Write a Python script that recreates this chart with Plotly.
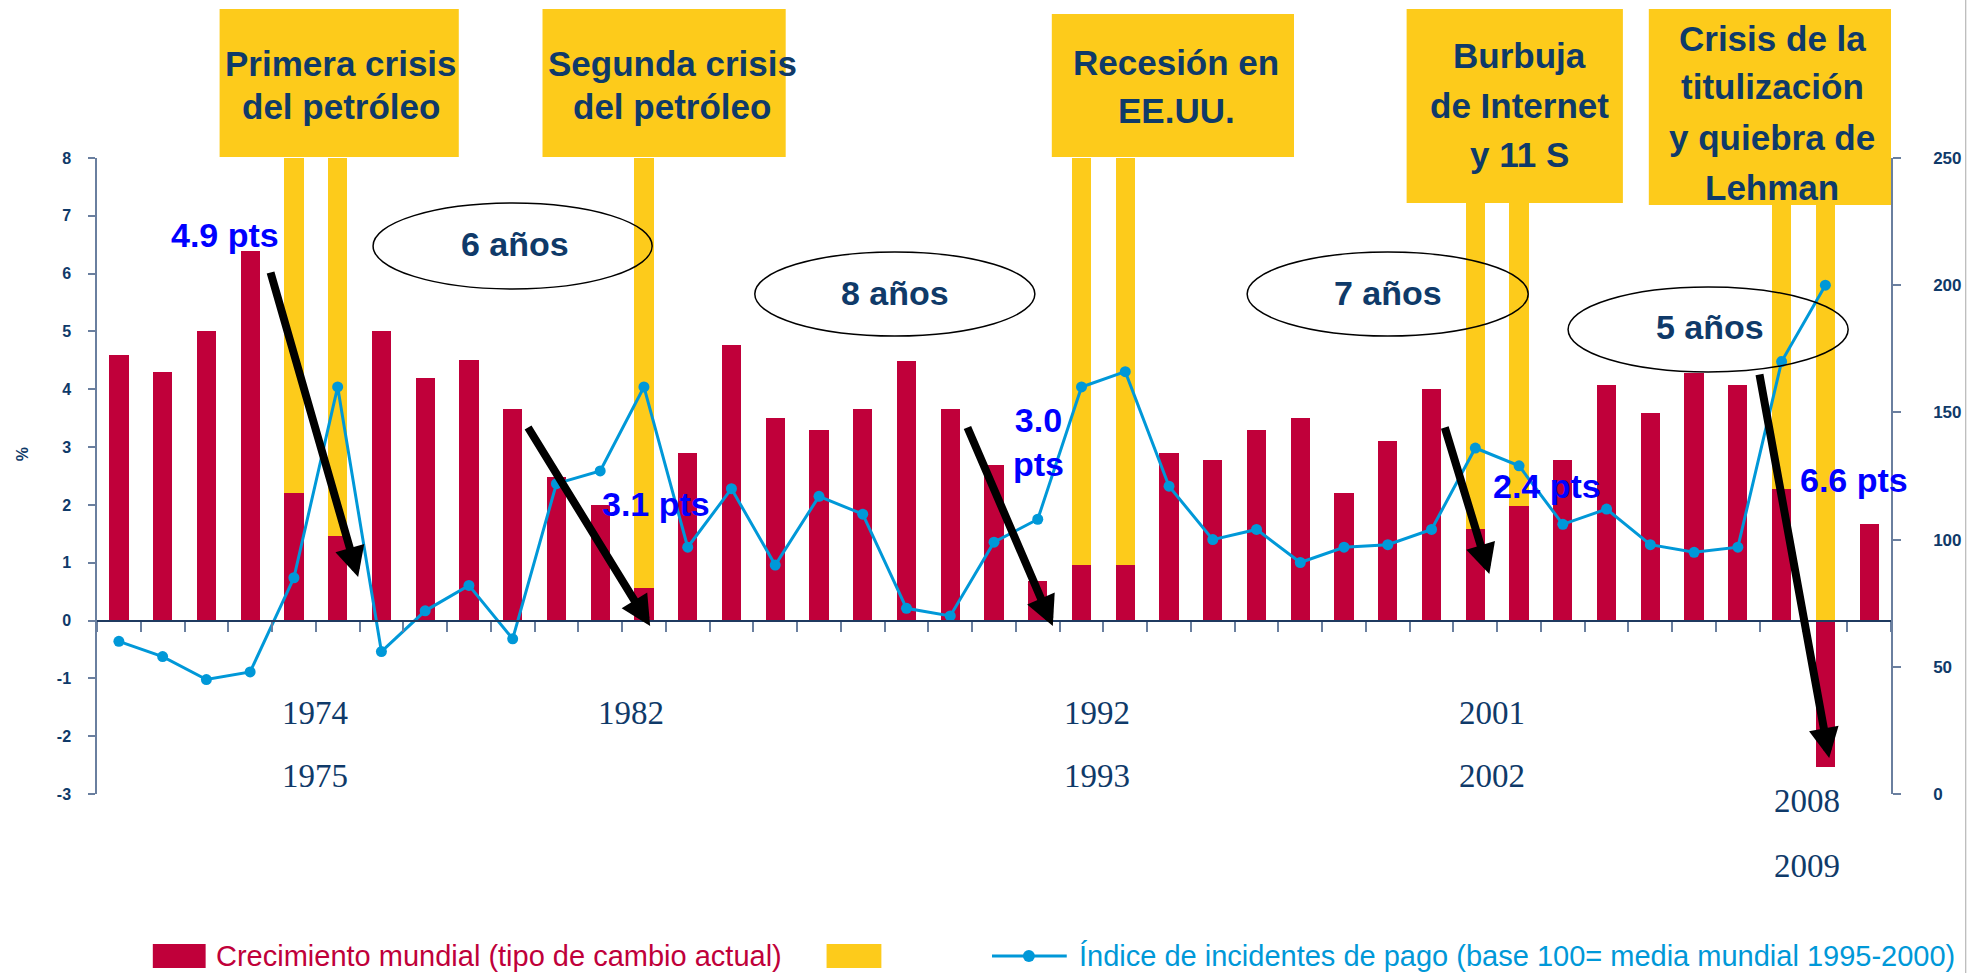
import plotly.graph_objects as go

# ---------------- data ----------------
years = [1970, 1971, 1972, 1973, 1974, 1975, 1976, 1977, 1978, 1979,
         1980, 1981, 1982, 1983, 1984, 1985, 1986, 1987, 1988, 1989,
         1990, 1991, 1992, 1993, 1994, 1995, 1996, 1997, 1998, 1999,
         2000, 2001, 2002, 2003, 2004, 2005, 2006, 2007, 2008, 2009, 2010]

growth = [4.6, 4.3, 5.0, 6.4, 2.2, 1.47, 5.0, 4.2, 4.5, 3.66,
          2.48, 2.0, 0.56, 2.9, 4.76, 3.5, 3.29, 3.66, 4.49, 3.66,
          2.69, 0.68, 0.96, 0.96, 2.9, 2.78, 3.29, 3.5, 2.2, 3.1,
          4.0, 1.58, 1.98, 2.78, 4.07, 3.59, 4.28, 4.07, 2.27, -2.53, 1.67]

payment_index = [60, 54, 45, 48, 85, 160, 56, 72, 82, 61,
                 122, 127, 160, 97, 120, 90, 117, 110, 73, 70,
                 99, 108, 160, 166, 121, 100, 104, 91, 97, 98,
                 104, 136, 129, 106, 112, 98, 95, 97, 170, 200, None]

crisis_years = [1974, 1975, 1982, 1992, 1993, 2001, 2002, 2008, 2009]
crisis_band = [8, 8, 8, 8, 8, 8, 8, 8, 8]

left_ticks = [-3, -2, -1, 0, 1, 2, 3, 4, 5, 6, 7, 8]
left_tick_text = ["-3", "-2", "-1", "0", "1", "2", "3", "4", "5", "6", "7", "8"]
right_ticks = [0, 50, 100, 150, 200, 250]
right_tick_text = ["0", "50", "100", "150", "200", "250"]

crisis_boxes = [
    ["Primera crisis", "del petróleo"],
    ["Segunda crisis", "del petróleo"],
    ["Recesión en", "EE.UU."],
    ["Burbuja", "de Internet", "y 11 S"],
    ["Crisis de la", "titulización", "y quiebra de", "Lehman"],
]
cycle_labels = ["6 años", "8 años", "7 años", "5 años"]
drop_labels = ["4.9 pts", "3.1 pts", "3.0<br>pts", "2.4 pts", "6.6 pts"]
year_labels = [["1974", "1975"], ["1982"], ["1992", "1993"], ["2001", "2002"], ["2008", "2009"]]

legend_growth = "Crecimiento mundial (tipo de cambio actual)"
legend_index = "Índice de incidentes de pago (base 100= media mundial 1995-2000)"

# ---------------- style ----------------
RED = "#C0003A"
YEL = "#FDCB1B"
BLUE = "#0098D8"
NAVY = "#0F3A69"
AXIS = "#6A7F9F"
PTS = "#0000FF"
SANS = "Liberation Sans, Arial, sans-serif"
SERIF = "Liberation Serif, Times New Roman, serif"

W, H = 1974, 973
L, R, T, B = 97, 1897, 158, 794
PW, PH = R - L, B - T


def px(x):
    return (x - L) / PW


def py(y):
    return (B - y) / PH


fig = go.Figure()
fig.add_trace(go.Bar(x=crisis_years, y=crisis_band, width=0.44, marker=dict(color=YEL, line=dict(width=0)),
                     yaxis="y", showlegend=False, hoverinfo="skip"))
fig.add_trace(go.Bar(x=years, y=growth, width=0.44, marker=dict(color=RED, line=dict(width=0)),
                     yaxis="y", showlegend=False, name=legend_growth))
fig.add_trace(go.Scatter(x=years, y=payment_index, yaxis="y2", mode="lines+markers",
                         line=dict(color=BLUE, width=3), marker=dict(color=BLUE, size=11),
                         showlegend=False, name=legend_index))

shapes = []
annotations = []

# crisis boxes (pixel geometry)
box_geo = [
    (220, 460, 9, 157, 342, [64, 107]),
    (544, 788, 9, 157, 674, [64, 107]),
    (1055, 1298, 14, 157, 1180, [62, 110]),
    (1411, 1628, 9, 203, 1524, [56, 105, 154]),
    (1654, 1897, 9, 205, 1778, [38, 87, 137, 187]),
]
for (x0, x1, y0, y1, cx, lys), lines in zip(box_geo, crisis_boxes):
    shapes.append(dict(type="rect", xref="paper", yref="paper", x0=px(x0), x1=px(x1), y0=py(y1), y1=py(y0),
                       fillcolor=YEL, line=dict(width=0), layer="above"))
    for ly, txt in zip(lys, lines):
        annotations.append(dict(xref="paper", yref="paper", x=px(cx), y=py(ly), text="<b>%s</b>" % txt,
                                showarrow=False, xanchor="center", yanchor="middle",
                                font=dict(family=SANS, size=35, color=NAVY)))

# cycle ellipses
ell_geo = [
    (374, 654, 203, 289, 516, 244),
    (757, 1038, 252, 336, 898, 293),
    (1251, 1533, 252, 336, 1392, 293),
    (1573, 1854, 287, 372, 1715, 327),
]
for (x0, x1, y0, y1, cx, cy), txt in zip(ell_geo, cycle_labels):
    shapes.append(dict(type="circle", xref="paper", yref="paper", x0=px(x0), x1=px(x1), y0=py(y1), y1=py(y0),
                       line=dict(color="black", width=1.5), fillcolor="rgba(0,0,0,0)", layer="above"))
    annotations.append(dict(xref="paper", yref="paper", x=px(cx), y=py(cy), text="<b>%s</b>" % txt,
                            showarrow=False, xanchor="center", yanchor="middle",
                            font=dict(family=SANS, size=34, color=NAVY)))

# drop labels
pts_geo = [(225, 235), (658, 504), (1042, 442), (1552, 486), (1860, 480)]
for (cx, cy), txt in zip(pts_geo, drop_labels):
    annotations.append(dict(xref="paper", yref="paper", x=px(cx), y=py(cy), text="<b>%s</b>" % txt,
                            showarrow=False, xanchor="center", yanchor="middle",
                            font=dict(family=SANS, size=34, color=PTS)))

# arrows (tail -> tip)
arrow_geo = [
    ((271, 271), (359, 577)),
    ((529, 426), (652, 626)),
    ((970, 426), (1056, 626)),
    ((1449, 426), (1494, 574)),
    ((1765, 373), (1835, 758)),
]
for (tx, ty), (hx, hy) in arrow_geo:
    annotations.append(dict(xref="paper", yref="paper", x=px(hx), y=py(hy), text="",
                            showarrow=True, axref="pixel", ayref="pixel", ax=tx - hx, ay=ty - hy,
                            arrowhead=2, arrowsize=0.75, arrowwidth=8, arrowcolor="black", standoff=0))

# year labels
year_geo = [(316, [713, 776]), (633, [713]), (1100, [713, 776]), (1497, [713, 776]), (1813, [801, 866])]
for (cx, lys), labs in zip(year_geo, year_labels):
    for ly, txt in zip(lys, labs):
        annotations.append(dict(xref="paper", yref="paper", x=px(cx), y=py(ly), text=txt,
                                showarrow=False, xanchor="center", yanchor="middle",
                                font=dict(family=SERIF, size=33, color=NAVY)))

# % axis title
annotations.append(dict(xref="paper", yref="paper", x=px(22), y=py(454), text="<b>%</b>", textangle=-90,
                        showarrow=False, xanchor="center", yanchor="middle",
                        font=dict(family=SANS, size=16, color=NAVY)))

# manual legend
shapes.append(dict(type="rect", xref="paper", yref="paper", x0=px(153), x1=px(206), y0=py(968), y1=py(944),
                   fillcolor=RED, line=dict(width=0)))
annotations.append(dict(xref="paper", yref="paper", x=px(214), y=py(956), text=legend_growth, showarrow=False,
                        xanchor="left", yanchor="middle", font=dict(family=SANS, size=29, color=RED)))
shapes.append(dict(type="rect", xref="paper", yref="paper", x0=px(829), x1=px(884), y0=py(968), y1=py(944),
                   fillcolor=YEL, line=dict(width=0)))
shapes.append(dict(type="line", xref="paper", yref="paper", x0=px(995), x1=px(1070), y0=py(956), y1=py(956),
                   line=dict(color=BLUE, width=3)))
shapes.append(dict(type="circle", xref="paper", yref="paper", x0=px(1026), x1=px(1038), y0=py(962), y1=py(950),
                   fillcolor=BLUE, line=dict(width=0)))
annotations.append(dict(xref="paper", yref="paper", x=px(1080), y=py(956), text=legend_index, showarrow=False,
                        xanchor="left", yanchor="middle", font=dict(family=SANS, size=29, color=BLUE)))

# slide border on right
shapes.append(dict(type="line", xref="paper", yref="paper", x0=px(1972), x1=px(1972), y0=py(973), y1=py(0),
                   line=dict(color="#A8A8A8", width=1)))

fig.update_layout(
    width=W, height=H,
    margin=dict(l=L, r=W - R, t=T, b=H - B, pad=0),
    paper_bgcolor="white", plot_bgcolor="white",
    barmode="overlay", bargap=0,
    showlegend=False,
    shapes=shapes, annotations=annotations,
    xaxis=dict(type="linear", range=[1969.5, 2010.5], anchor="free", position=3 / 11,
               showline=True, linecolor="#1F3A60", linewidth=2, zeroline=False, showgrid=False,
               ticks="outside", tick0=1969.5, dtick=1, ticklen=10, tickwidth=1.5, tickcolor=AXIS,
               showticklabels=False),
    yaxis=dict(range=[-3, 8], tickmode="array", tickvals=left_ticks,
               ticktext=["<b>%s</b>" % t for t in left_tick_text],
               showline=True, linecolor=AXIS, linewidth=1.5, ticks="outside", ticklen=7, tickwidth=1.5,
               tickcolor=AXIS, zeroline=False, showgrid=False, ticklabelstandoff=14,
               tickfont=dict(family=SANS, size=16, color=NAVY)),
    yaxis2=dict(range=[0, 250], overlaying="y", side="right", anchor="x", tickmode="array",
                tickvals=right_ticks, ticktext=["<b>%s</b>" % t for t in right_tick_text],
                showline=True, linecolor=AXIS, linewidth=1.5, ticks="outside", ticklen=8, tickwidth=1.5,
                tickcolor=AXIS, zeroline=False, showgrid=False, ticklabelstandoff=29,
                tickfont=dict(family=SANS, size=17, color=NAVY)),
    yaxis3=dict(range=[0, 250], overlaying="y", side="right", anchor="x", tickmode="array",
                tickvals=right_ticks, showticklabels=False, showline=False, ticks="inside", ticklen=8,
                tickwidth=1.5, tickcolor=AXIS, zeroline=False, showgrid=False),
)

fig.write_html("out.html", config={"displayModeBar": False},
               post_script="document.body.style.margin='0';")
